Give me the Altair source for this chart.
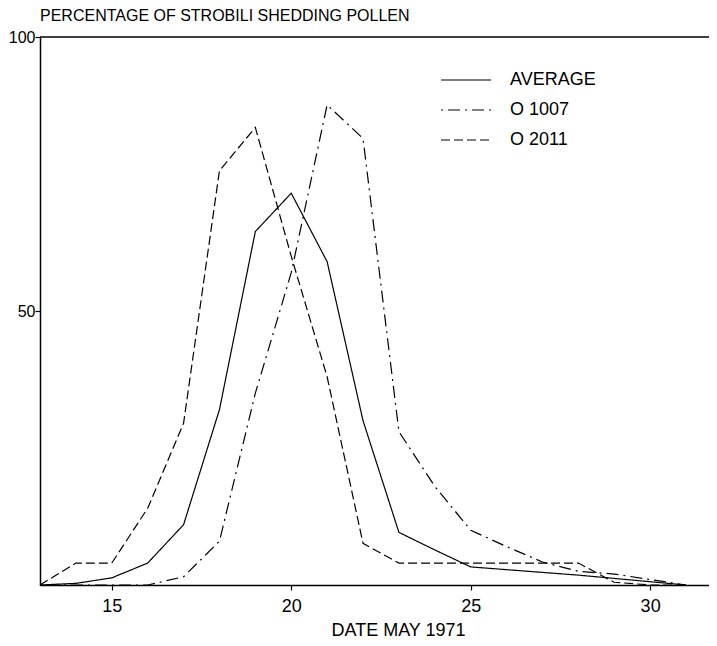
import altair as alt
import pandas as pd

days = list(range(13, 32))
average = [0, 0.3, 1.3, 4, 11, 32, 64.5, 71.5, 59, 30, 9.6, 6.4, 3.3, 2.8, 2.3, 1.8, 1.2, 0.6, 0]
o1007 = [0, 0, 0, 0, 1.5, 8, 35, 57, 87.6, 81.5, 28, 18, 10, 7, 4.2, 2.5, 2, 1, 0]
o2011 = [0, 4, 4, 14, 29.5, 75.6, 83.5, 60, 38, 7.6, 4, 4, 4, 4, 4, 4, 0.5, 0, 0]
series_names = ["AVERAGE", "O 1007", "O 2011"]
dash_styles = [[1, 0], [2, 5, 12, 5], [9, 4]]

x_ticks = [15, 20, 25, 30]
y_ticks = [50, 100]

rows = []
for name, vals in zip(series_names, [average, o1007, o2011]):
    for d, v in zip(days, vals):
        rows.append({"day": d, "pct": v, "series": name})
df = pd.DataFrame(rows)

FONT = "Liberation Sans"

x_enc = alt.X(
    "day:Q",
    scale=alt.Scale(domain=[13, 31.64], nice=False, zero=False),
    axis=alt.Axis(
        values=x_ticks, title="DATE MAY 1971", grid=False, tickSize=5,
        labelPadding=7, titleX=358, titleY=50, titleBaseline="alphabetic",
        titleAlign="center",
    ),
)
y_enc = alt.Y(
    "pct:Q",
    scale=alt.Scale(domain=[0, 100], nice=False),
    axis=alt.Axis(values=y_ticks, title=None, grid=False, tickSize=5,
                  labelPadding=0, labelFontSize=16),
)

lines = alt.Chart(df).mark_line(color="black", strokeWidth=1.2).encode(
    x=x_enc,
    y=y_enc,
    strokeDash=alt.StrokeDash(
        "series:N",
        scale=alt.Scale(domain=series_names, range=dash_styles),
        legend=alt.Legend(
            title=None, orient="none", legendX=400, legendY=35,
            symbolType="stroke", symbolSize=2500, symbolStrokeWidth=1.2,
            symbolStrokeColor="black", labelFont=FONT, labelFontSize=18,
            labelColor="black", labelOffset=18, rowPadding=12, clipHeight=16,
            padding=0,
        ),
    ),
    order=alt.Order("day:Q"),
)

top = alt.Chart(pd.DataFrame({"v": [100]})).mark_rule(color="black", strokeWidth=1.5).encode(
    y=alt.Y("v:Q", scale=alt.Scale(domain=[0, 100], nice=False))
)

chart = alt.layer(lines, top).properties(
    width=669,
    height=548,
    padding={"left": 32, "top": 29, "right": 0, "bottom": 53},
    autosize=alt.AutoSizeParams(type="none"),
    title=alt.TitleParams(
        "PERCENTAGE OF STROBILI SHEDDING POLLEN", anchor="start", frame="group",
        font=FONT, fontSize=16, fontWeight="normal", color="black",
        baseline="alphabetic", offset=0, dx=0, dy=8,
    ),
).configure_view(stroke=None).configure_axis(
    domainColor="black", domainWidth=1.5, tickColor="black", tickWidth=1.2,
    labelFont=FONT, labelFontSize=18, labelColor="black",
    titleFont=FONT, titleFontSize=18, titleColor="black", titleFontWeight="normal",
)

chart.save("out.html", embed_options={"renderer": "svg", "actions": False})
